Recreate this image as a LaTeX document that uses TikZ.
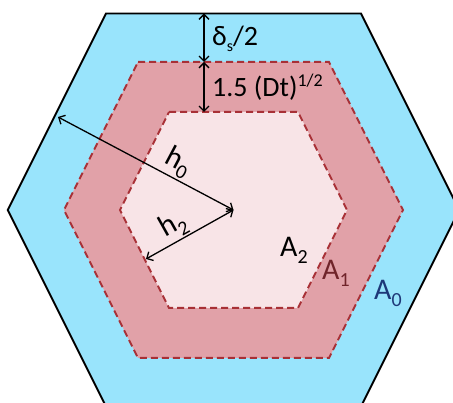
\documentclass[tikz,border=0pt]{standalone}
\usepackage{fontspec}
\setmainfont{Carlito}
\usetikzlibrary{arrows.meta}
\definecolor{cellblue}{RGB}{153,228,252}
\definecolor{midpink}{RGB}{225,161,168}
\definecolor{innerpink}{RGB}{248,228,231}
\definecolor{dashred}{RGB}{168,48,54}
\definecolor{aonered}{RGB}{112,36,42}
\definecolor{azeroblue}{RGB}{30,56,120}

\begin{document}
\begin{tikzpicture}[x=1pt,y=-1pt,
  outer/.style={draw=black,line width=1.8pt,fill=cellblue},
  zone/.style={draw=dashred,line width=2pt,dash pattern=on 7pt off 4pt},
  ar/.style={{Straight Barb[length=5pt,width=10pt]}-{Straight Barb[length=5pt,width=10pt]},line width=1.3pt},
  lbl/.style={font=\fontsize{30}{30}\selectfont,inner sep=0pt,anchor=base west},
  dim/.style={font=\fontsize{28}{28}\selectfont,inner sep=0pt,anchor=base west},
  hl/.style={font=\fontsize{30}{30}\selectfont,inner sep=1.5pt,sloped,above}]
 \useasboundingbox (0,0) rectangle (453,403);
 \clip (0,0) rectangle (453,403);
 % hexagons
 \draw[outer] (106,13.5) -- (361,13.5) -- (459.25,210) -- (361,406.5) -- (106,406.5) -- (7.75,210) -- cycle;
 \draw[zone,fill=midpink] (138,62) -- (329,62) -- (403,210) -- (329,358) -- (138,358) -- (64,210) -- cycle;
 \draw[zone,fill=innerpink] (169,112) -- (298,112) -- (347,210) -- (298,308) -- (169,308) -- (120,210) -- cycle;
 % points
 \coordinate (c) at (233.5,210);
 \coordinate (e0) at (58,117);
 \coordinate (e2) at (146,259);
 \coordinate (t0) at (204,13.5);
 \coordinate (t1) at (204,62);
 \coordinate (t2) at (204,112);
 % arrows
 \draw[ar] (t0) -- (t1);
 \draw[ar] (t1) -- (t2);
 \draw[ar] (c) -- node[hl,pos=0.36] {h{\raisebox{-7pt}{\fontsize{20}{20}\selectfont 0}}} (e0);
 \draw[ar] (c) -- node[hl,pos=0.6] {h{\raisebox{-7pt}{\fontsize{20}{20}\selectfont 2}}} (e2);
 % labels
 \node[dim] (ds) at (212,46) {δ{\raisebox{-6pt}{\fontsize{16}{16}\selectfont s}}/2};
 \node[dim] (dt) at (212,97) {1.5 (Dt){\raisebox{10pt}{\fontsize{18}{18}\selectfont 1/2}}};
 \node[lbl] (a2) at (280,257) {A{\raisebox{-7pt}{\fontsize{20}{20}\selectfont 2}}};
 \node[lbl,text=aonered] (a1) at (322,280) {A{\raisebox{-7pt}{\fontsize{20}{20}\selectfont 1}}};
 \node[lbl,text=azeroblue] (a0) at (374,300) {A{\raisebox{-7pt}{\fontsize{20}{20}\selectfont 0}}};
\end{tikzpicture}
\end{document}
